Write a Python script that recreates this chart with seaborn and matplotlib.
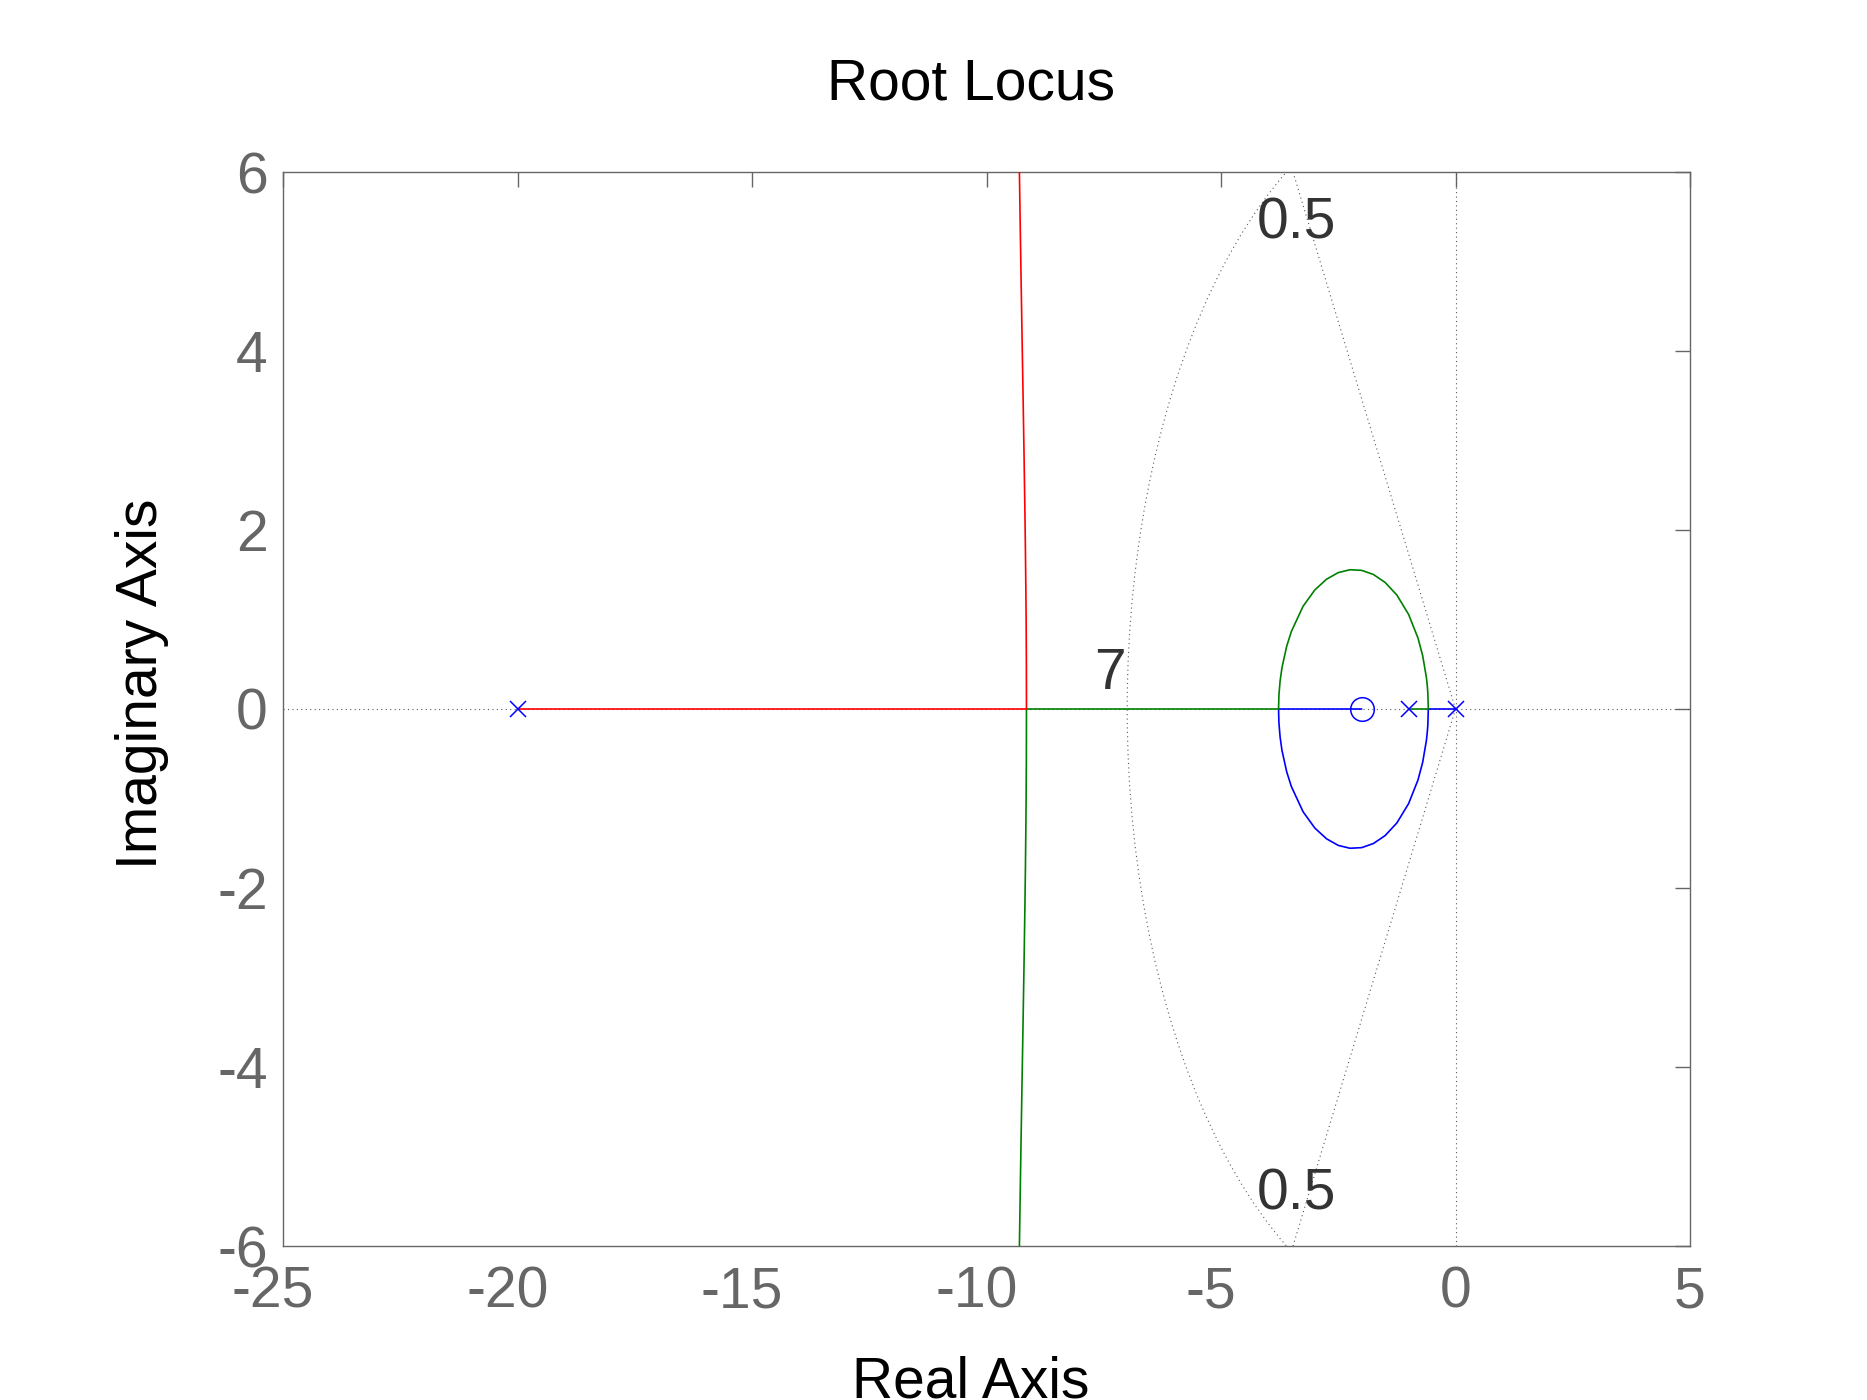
import matplotlib
matplotlib.use("Agg")
import matplotlib.pyplot as plt
import matplotlib.transforms as mtransforms
from matplotlib.patches import Arc
import numpy as np
import pandas as pd
import seaborn as sns

# ─── Data ────────────────────────────────────────────────────────────────────
poles_re = [0.0, -1.0, -20.0]
poles_im = [0.0, 0.0, 0.0]
zeros_re = [-2.0]
zeros_im = [0.0]

# upper half of the loop round the zero (break-away -0.58, break-in -3.77)
loop_re = [-0.5795, -0.59, -0.60, -0.62, -0.70, -0.80, -1.00, -1.25, -1.50, -1.75,
           -2.00, -2.25, -2.50, -2.75, -3.00, -3.25, -3.50, -3.60, -3.70, -3.74,
           -3.765, -3.773]
loop_im = [0.0, 0.180, 0.250, 0.350, 0.596, 0.793, 1.057, 1.273, 1.414, 1.503,
           1.549, 1.556, 1.524, 1.450, 1.330, 1.148, 0.866, 0.700, 0.462, 0.313,
           0.155, 0.0]

# upper asymptotic branch leaving the real axis near -9.15
asym_re = [-9.1477, -9.150, -9.155, -9.160, -9.170, -9.180, -9.200, -9.220,
           -9.240, -9.260, -9.280, -9.300, -9.310]
asym_im = [0.0, 0.55, 0.99, 1.295, 1.771, 2.17, 2.857, 3.487, 4.102, 4.723,
           5.371, 6.059, 6.43]

zeta_re = [0.0, -3.58]
zeta_im = [0.0, 6.2]
zeta_label = "0.5"
wn_radius = 7.0
wn_label = "7"

xticks = [-25, -20, -15, -10, -5, 0, 5]
yticks = [-6, -4, -2, 0, 2, 4, 6]

# ─── Branches: each continuous from pole to zero / asymptote ─────────────────
blue_re = [poles_re[0]] + loop_re + [zeros_re[0]]
blue_im = [0.0] + [-v for v in loop_im] + [0.0]
green_re = [poles_re[1]] + loop_re + asym_re
green_im = [0.0] + loop_im + [-v for v in asym_im]
red_re = [poles_re[2]] + asym_re
red_im = [0.0] + asym_im

frames = []
for name, xs, ys in [("b", blue_re, blue_im), ("g", green_re, green_im), ("r", red_re, red_im)]:
    frames.append(pd.DataFrame({"re": xs, "im": ys, "branch": name, "k": range(len(xs))}))
df = pd.concat(frames, ignore_index=True)

# ─── Style ───────────────────────────────────────────────────────────────────
sns.set_style("white")
plt.rcParams["font.family"] = ["Liberation Sans", "DejaVu Sans"]
plt.rcParams["axes.unicode_minus"] = False

FS = 41
GRAY = "#666666"
DOT = (0, (1, 3))

fig = plt.figure(figsize=(18.67, 14.0), dpi=100)
ax = fig.add_axes([283 / 1867, 1 - 1246 / 1400, 1407 / 1867, 1074 / 1400])

# grid lines (sgrid-like)
ax.axhline(0, color="0.35", lw=0.8, ls=DOT, zorder=1)
ax.axvline(0, color="0.35", lw=0.8, ls=DOT, zorder=1)
ax.plot(zeta_re, zeta_im, color="0.35", lw=0.8, ls=DOT, zorder=1)
ax.plot(zeta_re, [-v for v in zeta_im], color="0.35", lw=0.8, ls=DOT, zorder=1)
ax.add_patch(Arc((0, 0), 2 * wn_radius, 2 * wn_radius, theta1=90, theta2=270,
                 color="0.35", lw=0.8, ls=DOT, zorder=1))

# locus
sns.lineplot(data=df, x="re", y="im", hue="branch", units="branch", estimator=None,
             sort=False, palette={"b": "#0000FF", "g": "#008000", "r": "#FF0000"},
             linewidth=1.2, legend=False, ax=ax, zorder=3)

# poles and zero
ax.plot(poles_re, poles_im, ls="none", marker="x", ms=12, mew=1.1, color="#0000FF", zorder=4)
ax.plot(zeros_re, zeros_im, ls="none", marker="o", ms=17, mew=1.1, mfc="none",
        mec="#0000FF", zorder=4)

# grid labels
ax.text(-3.40, 5.42, zeta_label, fontsize=FS, color="#333333", ha="center", va="center")
ax.text(-3.40, -5.42, zeta_label, fontsize=FS, color="#333333", ha="center", va="center")
ax.text(-7.37, 0.39, wn_label, fontsize=FS, color="#333333", ha="center", va="center")

# axes
ax.set_xlim(-25, 5)
ax.set_ylim(-6, 6)
ax.set_xticks(xticks)
ax.set_yticks(yticks)
ax.set_xticklabels([str(t) for t in xticks])
ax.set_yticklabels([str(t) for t in yticks])
ax.tick_params(direction="in", length=11, width=1.0, color=GRAY, labelcolor=GRAY,
               labelsize=FS, top=True, right=True)
ax.tick_params(axis="x", pad=14)
ax.tick_params(axis="y", pad=11)
for sp in ax.spines.values():
    sp.set_visible(True)
    sp.set_color(GRAY)
    sp.set_linewidth(1.0)

# in the reference the digits sit centred on the tick, the minus sign hangs left
shift = mtransforms.ScaledTranslation(-10 / 100, 0, fig.dpi_scale_trans)
for t, lbl in zip(xticks, ax.get_xticklabels()):
    if t < 0:
        lbl.set_transform(lbl.get_transform() + shift)

ax.set_title("Root Locus", fontsize=FS, color="black", x=0.489, y=1.0595, va="baseline")
ax.set_xlabel("Real Axis", fontsize=FS, color="black", va="baseline")
ax.xaxis.set_label_coords(0.489, -0.1406)
ax.set_ylabel("Imaginary Axis", fontsize=FS, color="black", va="baseline")
ax.yaxis.set_label_coords(-0.0896, 0.523)

fig.savefig("out.png", dpi=100)
